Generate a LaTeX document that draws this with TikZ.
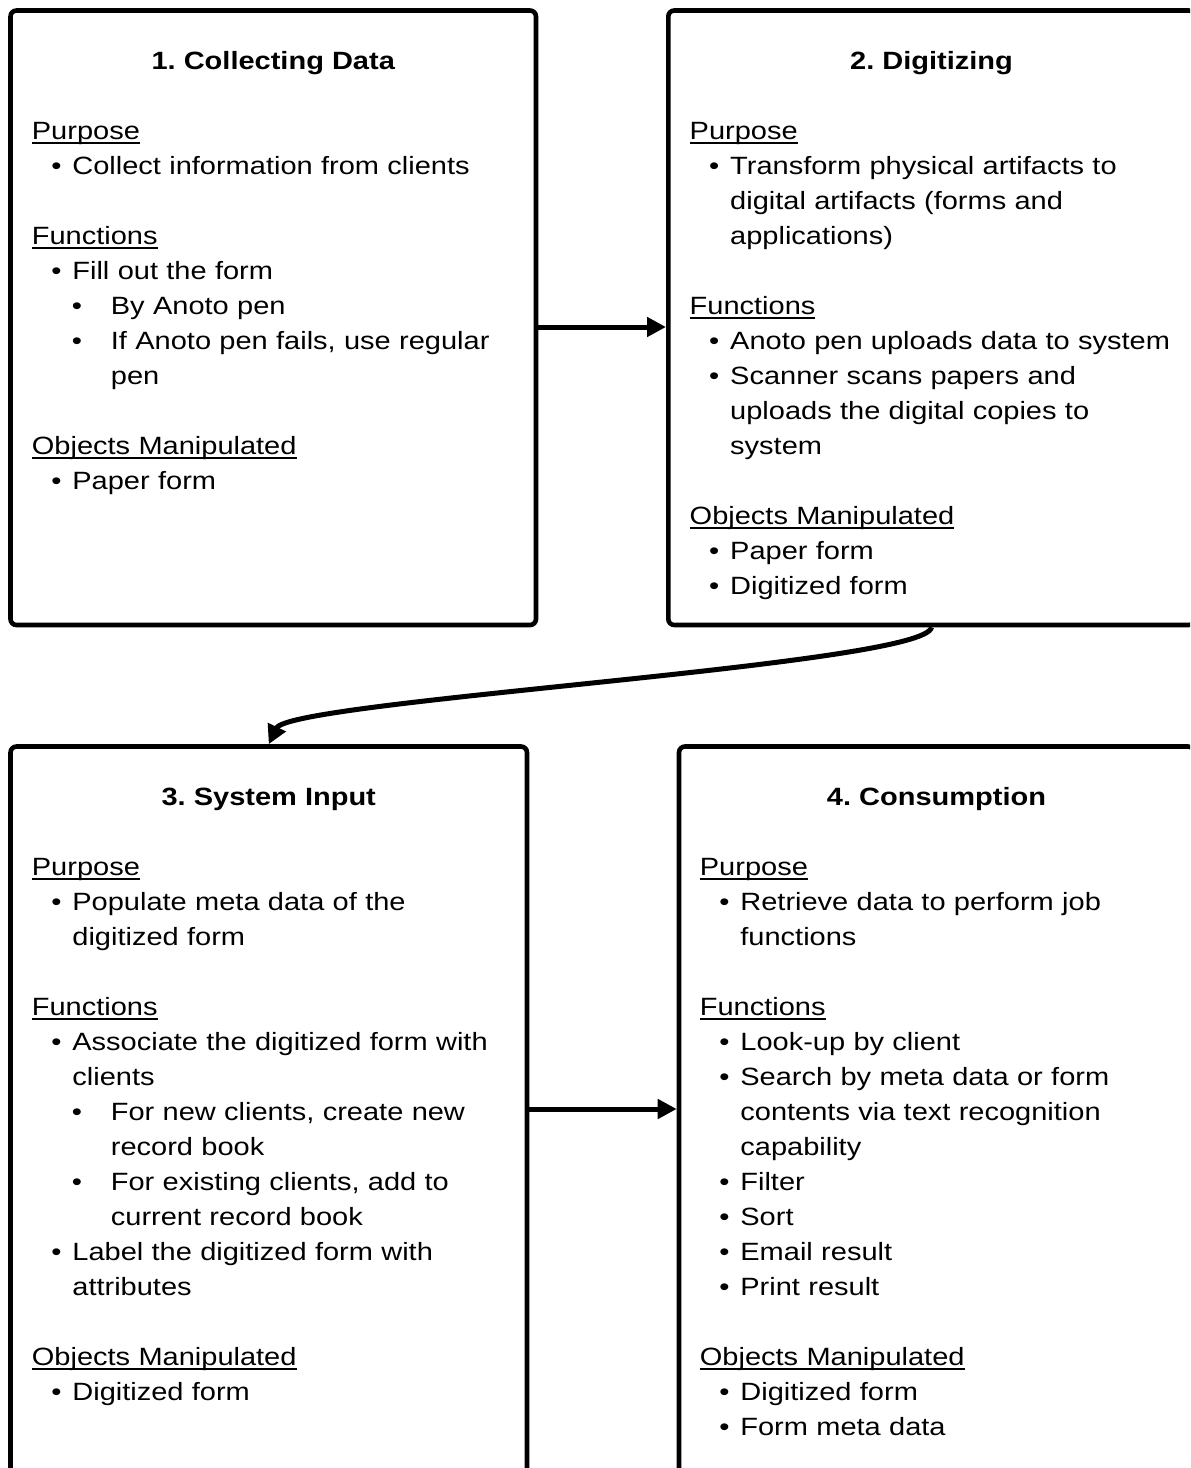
\documentclass[tikz,border=0pt]{standalone}
\usepackage{fontspec}
\setmainfont{Liberation Sans}[FakeStretch=1.16]
\usetikzlibrary{arrows.meta}
\setlength{\parindent}{0pt}
\setlength{\parskip}{0pt}
\frenchspacing
\newcommand{\hdr}[1]{\leavevmode\setbox0\hbox{#1}\rlap{\rule[-2pt]{\wd0}{1pt}}\box0}
\newcommand{\myb}[1]{\leavevmode\hspace*{9.75pt}\makebox[10.5pt][l]{\textbullet}#1}
\newcommand{\myc}[1]{\leavevmode\hspace*{20.25pt}#1}
\newcommand{\mysb}[1]{\leavevmode\hspace*{20pt}\makebox[19.5pt][l]{\textbullet}#1}
\newcommand{\mysc}[1]{\leavevmode\hspace*{39.5pt}#1}
\newcommand{\blankline}{\leavevmode\strut}
\begin{document}
\frenchspacing
\begin{tikzpicture}[x=0.5pt,y=-0.5pt,
  box/.style={draw,line width=2.3pt,rounded corners=3pt,inner sep=0pt,anchor=north west},
  ttl/.style={anchor=base,inner sep=0pt,font=\bfseries\frenchspacing\fontsize{12.5pt}{17.5pt}\selectfont},
  body/.style={anchor=north west,inner sep=0pt,text width=255pt,align=left,font=\frenchspacing\fontsize{12.5pt}{17.5pt}\selectfont},
  arr/.style={line width=2.5pt,-{Triangle[length=9.5pt,width=9.5pt]}}]
\useasboundingbox (0,0) rectangle (1190,1468);
\clip (0,0) rectangle (1190,1468);
\fill[white] (0,0) rectangle (1190,1468);

% boxes
\node[box,minimum width=262.75pt,minimum height=307.25pt] (b1) at (8.2,8.2) {};
\node[box,minimum width=263.2pt,minimum height=307.25pt] (b2) at (666,8.2) {};
\node[box,minimum width=258.25pt,minimum height=364.25pt] (b3) at (8.2,744.2) {};
\node[box,minimum width=257.5pt,minimum height=364.25pt] (b4) at (676.7,744.2) {};

% titles
\node[ttl] (t1) at (273.25,69.5) {1. Collecting Data};
\node[ttl] (t2) at (931.5,69.5) {2. Digitizing};
\node[ttl] (t3) at (268.75,805.5) {3. System Input};
\node[ttl] (t4) at (936.5,805.5) {4. Consumption};

% bodies
\node[body] (c1) at (31.5,115) {\strut\hdr{Purpose}\\
\myb{Collect information from clients}\\
\blankline\\
\hdr{Functions}\\
\myb{Fill out the form}\\
\mysb{By Anoto pen}\\
\mysb{If Anoto pen fails, use regular}\\
\mysc{pen}\\
\blankline\\
\hdr{Objects Manipulated}\\
\myb{Paper form}};

\node[body] (c2) at (689.3,115) {\strut\hdr{Purpose}\\
\myb{Transform physical artifacts to}\\
\myc{digital artifacts (forms and}\\
\myc{applications)}\\
\blankline\\
\hdr{Functions}\\
\myb{Anoto pen uploads data to system}\\
\myb{Scanner scans papers and}\\
\myc{uploads the digital copies to}\\
\myc{system}\\
\blankline\\
\hdr{Objects Manipulated}\\
\myb{Paper form}\\
\myb{Digitized form}};

\node[body] (c3) at (31.5,851) {\strut\hdr{Purpose}\\
\myb{Populate meta data of the}\\
\myc{digitized form}\\
\blankline\\
\hdr{Functions}\\
\myb{Associate the digitized form with}\\
\myc{clients}\\
\mysb{For new clients, create new}\\
\mysc{record book}\\
\mysb{For existing clients, add to}\\
\mysc{current record book}\\
\myb{Label the digitized form with}\\
\myc{attributes}\\
\blankline\\
\hdr{Objects Manipulated}\\
\myb{Digitized form}};

\node[body] (c4) at (699.5,851) {\strut\hdr{Purpose}\\
\myb{Retrieve data to perform job}\\
\myc{functions}\\
\blankline\\
\hdr{Functions}\\
\myb{Look-up by client}\\
\myb{Search by meta data or form}\\
\myc{contents via text recognition}\\
\myc{capability}\\
\myb{Filter}\\
\myb{Sort}\\
\myb{Email result}\\
\myb{Print result}\\
\blankline\\
\hdr{Objects Manipulated}\\
\myb{Digitized form}\\
\myb{Form meta data}};

% connectors
\coordinate (r1) at (600,327);
\coordinate (r2) at (600,1109);
\draw[arr] (b1.east |- r1) -- (b2.west |- r1);
\draw[arr] (b3.east |- r2) -- (b4.west |- r2);
\draw[arr] (b2.south) .. controls +(-6,38) and +(21,-44) .. (b3.north);
\end{tikzpicture}
\end{document}
